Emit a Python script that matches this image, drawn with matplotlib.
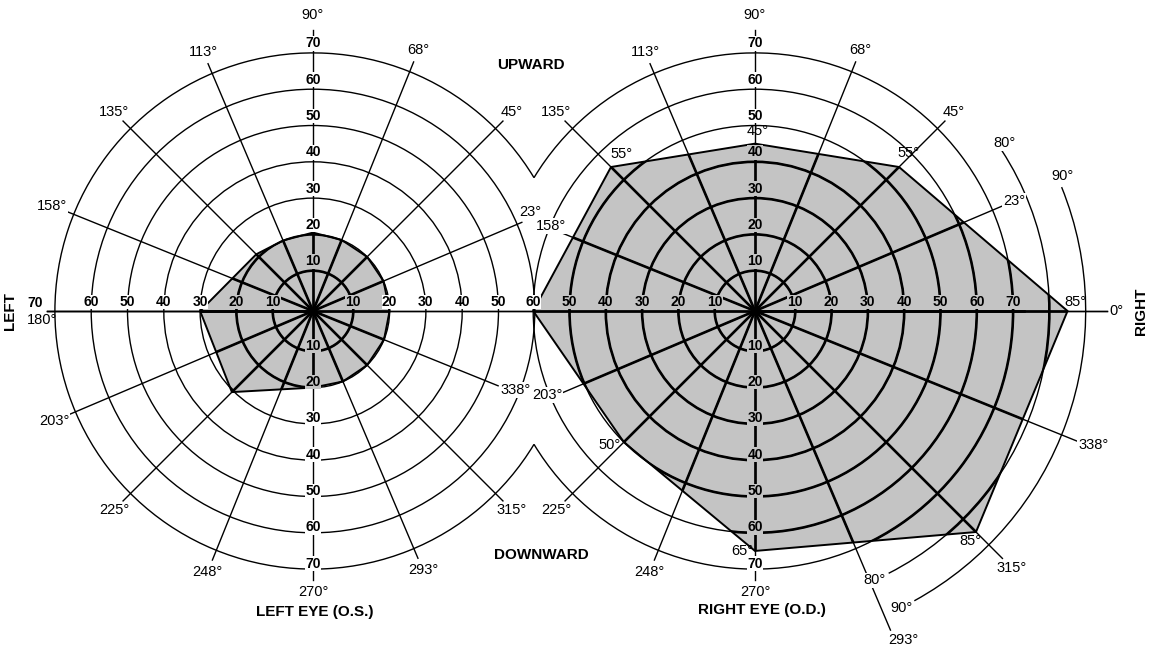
import numpy as np
import matplotlib.pyplot as plt
from matplotlib.patches import Arc, Circle, Polygon
from matplotlib.path import Path

plt.rcParams["font.family"] = ["Liberation Sans", "DejaVu Sans"]

# ---- data ----
meridians = [0, 23, 45, 68, 90, 113, 135, 158, 180, 203, 225, 248, 270, 293, 315, 338]
rings = [10, 20, 30, 40, 50, 60, 70]
outer_arcs = [80, 90]

left_field_angles = [0, 23, 45, 68, 90, 113, 135, 180, 225, 270, 293, 315, 338]
left_field_values = [20, 20, 20, 20, 20.5, 20, 21, 30, 30.5, 20, 20, 20, 20]

right_field_angles = [0, 45, 90, 135, 180, 225, 270, 315]
right_field_values = [85, 55, 45, 55, 60, 50, 65, 85]
right_field_labels = ["85°", "55°", "45°", "55°", "", "50°", "65°", "85°"]

# ---- layout ----
PX = 3.63          # pixels per degree of the chart
R0 = 1.1           # rings start a little off the fixation point
LEFT_C = 0.0
RIGHT_C = 442 / PX
GREY = "#c4c4c4"
THIN, THICK = 1.0, 1.9
FS_ANG, FS_NUM = 10.5, 10

LINE_END = 74.0
LABEL_R = 77.5
# (eye, meridian) -> (line end, label angle, label radius)
special = {
    ("L", 23): (62.5, 24.5, 65.7),
    ("L", 338): (55.0, 338.6, 59.8),
    ("L", 90): (77.4, 90, 81.5),
    ("R", 90): (77.4, 90, 81.5),
    ("R", 158): (57.6, 157.3, 60.8),
    ("R", 203): (57.9, 202.0, 61.8),
    ("R", 293): (95.5, 294.3, 99.3),
    ("R", 315): (96.4, 315.0, 100.0),
    ("R", 338): (96.4, 338.4, 100.2),
}
arc_span = {80: (-63.0, 33.0), 90: (-61.2, 22.0)}
arc_labels = {80: [(34.0, 82.8), (-66.0, 81.2)], 90: [(23.7, 92.6), (-63.7, 91.3)]}
field_label_off = [(2.1, 2.5, "center"), (2.5, 3.9, "center"), (0.8, 3.6, "center"),
                   (2.8, 3.6, "center"), None, (-1.0, -0.9, "right"),
                   (-0.5, 0.0, "right"), (-1.4, -2.6, "center")]


def rad(v):
    return R0 + v


def pt(cx, ang, r):
    a = np.radians(ang)
    return cx + r * np.cos(a), r * np.sin(a)


fig = plt.figure(figsize=(11.53, 6.47), dpi=100)
ax = fig.add_axes([0, 0, 1, 1])
ax.set_xlim(-313 / PX, (1153 - 313) / PX)
ax.set_ylim(-(647 - 311) / PX, 311 / PX)
ax.axis("off")

# visual fields
left_xy = np.array([pt(LEFT_C, a, rad(v)) for a, v in zip(left_field_angles, left_field_values)])
right_xy = np.array([pt(RIGHT_C, a, rad(v)) for a, v in zip(right_field_angles, right_field_values)])
polys = {}
for eye, xy in (("L", left_xy), ("R", right_xy)):
    polys[eye] = ax.add_patch(Polygon(xy, closed=True, fc=GREY, ec="none", zorder=1))
    ax.add_patch(Polygon(xy, closed=True, fill=False, ec="black", lw=1.4, zorder=3))


def draw_grid(eye, cx, lw, clip=None):
    arts = []
    for v in rings[:-1]:
        arts.append(ax.add_patch(Circle((cx, 0), rad(v), fill=False, ec="black", lw=lw, zorder=2)))
    t = np.degrees(np.arccos((RIGHT_C - LEFT_C) / 2 / rad(70)))
    th1, th2 = (t, 360 - t) if eye == "L" else (t - 180, 180 - t)
    arts.append(ax.add_patch(Arc((cx, 0), 2 * rad(70), 2 * rad(70), theta1=th1, theta2=th2,
                                 ec="black", lw=lw, zorder=2)))
    for a in meridians:
        if (eye == "L" and a == 0) or (eye == "R" and a == 180):
            continue
        end = special.get((eye, a), (LINE_END,))[0]
        if a == 180:
            end = 73.3
        x, y = pt(cx, a, end)
        arts += ax.plot([cx, x], [0, y], color="black", lw=lw, zorder=2)
    if eye == "R":
        for v in outer_arcs:
            a1, a2 = arc_span[v]
            arts.append(ax.add_patch(Arc((cx, 0), 2 * rad(v), 2 * rad(v), theta1=a1, theta2=a2,
                                         ec="black", lw=lw, zorder=2)))
    arts += ax.plot([LEFT_C - 73.3, RIGHT_C + 97], [0, 0], color="black", lw=lw, zorder=2)
    if clip is not None:
        for art in arts:
            art.set_clip_path(clip)


for eye, cx in (("L", LEFT_C), ("R", RIGHT_C)):
    draw_grid(eye, cx, THIN)
    draw_grid(eye, cx, THICK, clip=polys[eye])
    ax.plot(cx, 0, "o", color="black", ms=5, zorder=5)

# meridian labels
for eye, cx in (("L", LEFT_C), ("R", RIGHT_C)):
    for a in meridians:
        if a in (0, 180):
            continue
        _, la, lr = special.get((eye, a), (None, a, LABEL_R))
        x, y = pt(cx, la, lr)
        ax.text(x, y, f"{a}°", ha="center", va="center", fontsize=FS_ANG, zorder=6,
                bbox=dict(boxstyle="square,pad=0.05", fc="white", ec="none"))
ax.text(LEFT_C - 74.7, -2.6, "180°", ha="center", va="center", fontsize=FS_ANG, zorder=6)
ax.text(LEFT_C - 76.6, 2.3, "70", ha="center", va="center", fontsize=FS_NUM,
        fontweight="bold", zorder=6)
ax.text(RIGHT_C + 97.6, 0, "0°", ha="left", va="center", fontsize=FS_ANG, zorder=6)

# ring numbers
paths = {"L": Path(left_xy), "R": Path(right_xy)}


def ring_label(x, y, v):
    inside = paths["L"].contains_point((x, y)) or paths["R"].contains_point((x, y))
    ax.text(x, y, str(v), ha="center", va="center", fontsize=FS_NUM, fontweight="bold", zorder=6,
            bbox=dict(boxstyle="square,pad=0.02", fc=GREY if inside else "white", ec="none"))


for eye, cx in (("L", LEFT_C), ("R", RIGHT_C)):
    left_side = rings[:6]
    right_side = rings[:5] if eye == "L" else rings
    for v in left_side:
        ring_label(cx - rad(v), 2.5, v)
    for v in right_side:
        ring_label(cx + rad(v), 2.5, v)
    for v in rings:
        ring_label(cx, rad(v) + 2.6, v)
        ring_label(cx, -(rad(v) - 1.5), v)

# outer isopter arc labels
for v in outer_arcs:
    for la, lr in arc_labels[v]:
        x, y = pt(RIGHT_C, la, lr)
        ax.text(x, y, f"{v}°", ha="center", va="center", fontsize=FS_ANG, zorder=6,
                bbox=dict(boxstyle="square,pad=0.05", fc="white", ec="none"))

# field vertex labels
for a, v, txt, off in zip(right_field_angles, right_field_values, right_field_labels,
                          field_label_off):
    if not txt:
        continue
    x, y = pt(RIGHT_C, a, rad(v))
    ax.text(x + off[0], y + off[1], txt, ha=off[2], va="center", fontsize=FS_ANG, zorder=6)

# titles
W, H = 1153, 647
bold = dict(fontsize=11, fontweight="bold", ha="center", va="center", transform=ax.transAxes)
ax.text(531 / W, 1 - 65 / H, "UPWARD", **bold)
ax.text(541 / W, 1 - 555 / H, "DOWNWARD", **bold)
ax.text(315 / W, 1 - 612 / H, "LEFT EYE (O.S.)", **bold)
ax.text(762 / W, 1 - 610 / H, "RIGHT EYE (O.D.)", **bold)
ax.text(10 / W, 1 - 311 / H, "LEFT", rotation=90, **bold)
ax.text(1141 / W, 1 - 311 / H, "RIGHT", rotation=90, **bold)

fig.savefig("out.png", dpi=100)
